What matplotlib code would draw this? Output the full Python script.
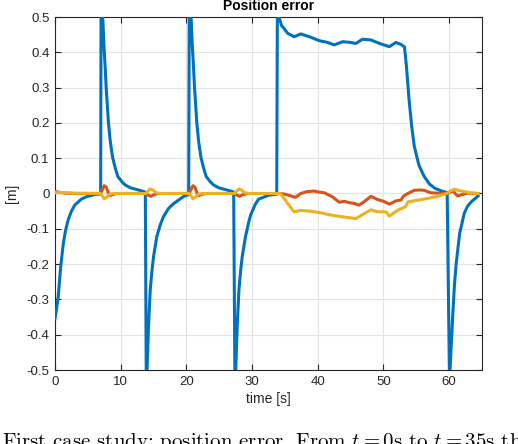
import matplotlib
matplotlib.use("Agg")
import matplotlib.pyplot as plt

# ---------------- data ----------------
t_x = [0, 0.25, 0.5, 0.87, 1.27, 1.6, 2.0, 2.5, 3.0, 4.0, 4.8, 6.0, 6.95,
       7.02, 7.15, 7.45, 7.63, 7.79, 8.14, 8.4, 8.75, 9.2, 9.57, 10.2, 10.7, 11.5, 12.7, 13.6,
       13.75, 13.9, 14.25, 14.5, 14.75, 15.0, 15.5, 16.0, 16.5, 17.3, 18.1, 19.6, 20.35,
       20.45, 20.6, 20.9, 21.08, 21.24, 21.59, 21.85, 22.2, 22.65, 23.02, 23.65, 24.15,
       24.95, 26.15, 27.1,
       27.2, 27.4, 27.75, 28.0, 28.25, 28.5, 29.0, 29.5, 29.8, 30.5, 31.0, 32.5, 33.75,
       33.85, 34.1, 34.5, 34.85, 35.4, 36.4, 37.4, 38.9, 40.2, 41.5, 42.5, 43.8,
       45.0, 45.8, 46.8, 48.1, 49.4, 50.9, 51.9, 52.7, 53.2, 53.5, 53.9, 54.3, 54.7,
       55.4, 56.2, 57.0, 57.8, 59.0, 59.6,
       59.7, 60.05, 60.56, 60.8, 61.07, 61.6, 62.3, 62.8, 63.4, 64.4]
e_x = [-0.355, -0.325, -0.29, -0.207, -0.141, -0.105, -0.075, -0.05, -0.033, -0.016,
       -0.009, -0.003, -0.001,
       0.6, 0.55, 0.42, 0.36, 0.30, 0.20, 0.15, 0.104, 0.07, 0.048, 0.033, 0.024, 0.016,
       0.01, 0.005,
       0.0, -0.56, -0.37, -0.273, -0.22, -0.179, -0.122, -0.09, -0.066, -0.042, -0.028,
       -0.008, -0.003,
       0.6, 0.55, 0.42, 0.36, 0.30, 0.20, 0.15, 0.104, 0.07, 0.048, 0.033, 0.024,
       0.016, 0.01, 0.005,
       0.0, -0.56, -0.37, -0.273, -0.22, -0.179, -0.122, -0.08, -0.06, -0.03, -0.016,
       -0.005, -0.002,
       0.52, 0.5, 0.475, 0.468, 0.454, 0.444, 0.452, 0.443, 0.433, 0.428, 0.421, 0.430,
       0.428, 0.425, 0.437, 0.435, 0.425, 0.416, 0.428, 0.422, 0.415, 0.36, 0.265, 0.19,
       0.133, 0.08, 0.048, 0.027, 0.015, 0.006, 0.003,
       0.0, -0.53, -0.34, -0.26, -0.198, -0.113, -0.056, -0.036, -0.023, -0.007]

t_y = [0, 0.5, 1.5, 3, 6.9, 7.1, 7.5, 7.8, 8.1, 8.4, 8.8, 9.5,
       13.8, 14.1, 14.6, 15.0, 15.6, 20.4, 20.6, 21.0, 21.3, 21.6, 21.9, 22.3, 23.0,
       27.3, 27.6, 28.1, 28.5, 29.2, 34.3, 35.0, 35.6, 36.6, 37.4, 38.3, 39.4, 40.2,
       41.0, 42.2, 43.3, 44.0, 44.8, 45.5, 46.3, 47.0, 48.1, 49.1, 50.0, 50.9, 51.9,
       52.7, 53.0, 53.7, 54.7, 55.5, 56.2, 57.2, 59.6, 60.2, 60.6, 61.0, 61.3, 61.8,
       62.8, 64.4]
e_y = [0.006, 0.004, 0.001, 0.0, 0.0, 0.008, 0.022, 0.018, 0.002, -0.006, -0.003, 0.0,
       0.0, -0.004, -0.008, -0.004, 0.0, 0.0, 0.008, 0.022, 0.018, 0.002, -0.006, -0.003, 0.0,
       0.0, -0.004, -0.008, -0.004, 0.0, 0.0, -0.002, -0.005, -0.011, 0.0, 0.005, 0.007, 0.004,
       0.002, -0.009, -0.025, -0.022, -0.026, -0.028, -0.033, -0.024, -0.008, -0.017, -0.022,
       -0.030, -0.021, -0.018, -0.008, 0.0, 0.009, 0.010, 0.009, 0.002, 0.0, 0.004, 0.007,
       -0.002, -0.007, -0.004, 0.001, 0.0]

t_z = [0, 1, 3, 6.9, 7.1, 7.5, 7.9, 8.3, 9.0, 13.8, 14.1, 14.5, 14.9, 15.3, 16.0,
       20.4, 20.6, 21.0, 21.4, 21.8, 22.5, 27.3, 27.6, 28.0, 28.4, 28.8, 29.5,
       34.3, 34.8, 35.4, 36.4, 37.4, 38.9, 40.5, 42.0, 43.8, 45.0, 45.8, 46.8, 48.1,
       49.1, 50.4, 50.9, 52.2, 53.4, 53.7, 55.2, 56.7, 58.3, 59.6, 60.3, 60.8, 61.8,
       63.3, 64.4]
e_z = [0.002, 0.003, 0.001, 0.0, -0.004, -0.015, -0.010, -0.002, 0.0, 0.0, 0.006, 0.013,
       0.010, 0.003, 0.0, 0.0, -0.004, -0.015, -0.010, -0.002, 0.0, 0.0, 0.006, 0.013,
       0.010, 0.003, 0.0, 0.0, -0.012, -0.028, -0.052, -0.048, -0.050, -0.055, -0.061,
       -0.066, -0.069, -0.071, -0.060, -0.046, -0.052, -0.052, -0.064, -0.047, -0.037,
       -0.024, -0.019, -0.014, -0.008, 0.0, 0.008, 0.012, 0.007, 0.002, 0.0]

x_ticks = [0, 10, 20, 30, 40, 50, 60]
y_ticks = [-0.5, -0.4, -0.3, -0.2, -0.1, 0, 0.1, 0.2, 0.3, 0.4, 0.5]
y_tick_labels = ["-0.5", "-0.4", "-0.3", "-0.2", "-0.1", "0",
                 "0.1", "0.2", "0.3", "0.4", "0.5"]

# ---------------- figure ----------------
plt.rcParams['font.family'] = ['Liberation Sans', 'DejaVu Sans']
plt.rcParams['mathtext.fontset'] = 'cm'

fig = plt.figure(figsize=(5.18, 4.44), dpi=100)
ax = fig.add_axes([55 / 518, 1 - 370 / 444, (482 - 55) / 518, (370 - 17) / 444])

lw = 2.2
ax.plot(t_x, e_x, color='#0072BD', lw=lw, zorder=3)
ax.plot(t_y, e_y, color='#D95319', lw=lw, zorder=4)
ax.plot(t_z, e_z, color='#EDB120', lw=lw, zorder=5)

ax.set_xlim(0, 65)
ax.set_ylim(-0.5, 0.5)
ax.set_xticks(x_ticks)
ax.set_yticks(y_ticks)
ax.set_yticklabels(y_tick_labels)

ax.grid(True, color='#E3E3E3', lw=0.8)
ax.set_axisbelow(True)
for s in ax.spines.values():
    s.set_color('#262626')
    s.set_linewidth(0.8)
ax.tick_params(direction='in', top=True, right=True, length=4, width=0.8,
               colors='#262626', labelsize=9.5, pad=4)

ax.set_title('Position error', fontsize=10, fontweight='bold', pad=5, color='black')
ax.set_xlabel('time [s]', fontsize=10, color='#262626', labelpad=3)
ax.set_ylabel('[m]', fontsize=10, color='#262626', labelpad=5)

# caption of the source figure, partly cut off by the image edge as in the reference
fig.text(0.003, -0.0075,
         r'First case study: position error. From $t = 0$s to $t = 35$s the',
         family='cmr10', fontsize=15, ha='left', va='baseline', color='black')

fig.savefig('out.png', dpi=100)
